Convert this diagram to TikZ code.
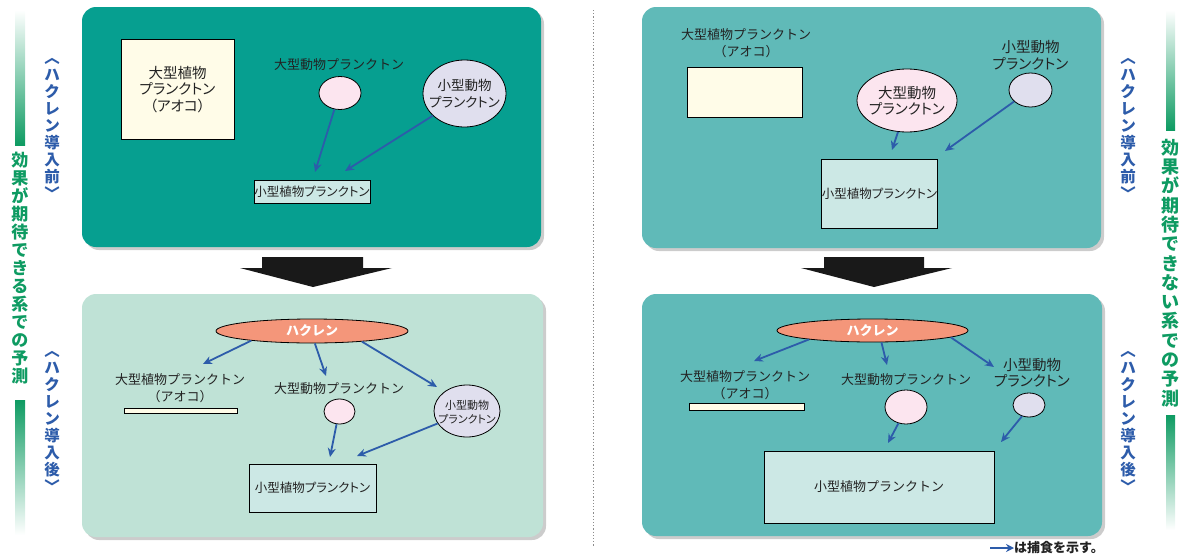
\documentclass[tikz,border=0pt]{standalone}
\usepackage{fontspec}
\setmainfont{Noto Sans CJK JP}
\newfontfamily\jpp{Noto Sans CJK JP}[RawFeature=+palt]
\usetikzlibrary{shapes.geometric,arrows.meta,shadows}
\definecolor{cTL}{HTML}{069F90}
\definecolor{cBL}{HTML}{BFE2D6}
\definecolor{cTR}{HTML}{60BAB8}
\definecolor{cIvory}{HTML}{FFFCE8}
\definecolor{cPink}{HTML}{FCE5EF}
\definecolor{cLav}{HTML}{E0DFEE}
\definecolor{cBox}{HTML}{CCE8E5}
\definecolor{cSalmon}{HTML}{F4967A}
\definecolor{cArrow}{HTML}{2D5CAA}
\definecolor{cGreen}{HTML}{0E9B62}
\definecolor{cText}{HTML}{222222}
\tikzset{
  panel/.style={rounded corners=14, inner sep=0, draw=none,
    drop shadow={shadow xshift=3pt, shadow yshift=-3pt, fill=black!20, opacity=1}},
  box/.style={draw=black, line width=0.8pt, inner sep=0, align=center, text=cText},
  ell/.style={ellipse, draw=black, line width=0.8pt, inner sep=0},
  txA/.style={font=\fontsize{13}{17}\selectfont, text=cText, inner sep=0, align=center},
  txP/.style={font=\jpp\fontsize{14.5}{16.5}\selectfont, text=cText, inner sep=0, align=center},
  txS/.style={font=\jpp\fontsize{12.5}{15}\selectfont},
  txL/.style={font=\jpp\fontsize{11}{13.5}\selectfont, text=cText, inner sep=0, align=center},
  hak/.style={ell, fill=cSalmon, text=white, font=\bfseries\fontsize{13}{15}\selectfont},
  conn/.style={draw=cArrow, line width=1.8pt, -{Stealth[length=9pt,width=8pt]}},
  vgreen/.style={text=cGreen, inner sep=0, align=center},
  vblue/.style={text=cArrow, inner sep=0, align=center, font=\bfseries\fontsize{15.5}{17}\selectfont},
  blk/.style={fill=black!90},
}
\begin{document}
\begin{tikzpicture}[x=1pt,y=-1pt]
\useasboundingbox (0,0) rectangle (1191,557);

% ---------- side decorations ----------
\shade[top color=white, bottom color=cGreen] (15,10) rectangle (25,145);
\shade[top color=cGreen, bottom color=white] (15,400) rectangle (25,535);
\node[vgreen, font=\bfseries\fontsize{17}{18}\selectfont] (vL) at (20,268.5)
  {効\\果\\が\\期\\待\\で\\き\\る\\系\\で\\の\\予\\測};
\node[vblue] (bLU) at (52,128.5) {︿\\ハ\\ク\\レ\\ン\\導\\入\\前\\﹀};
\node[vblue] (bLD) at (52,421.5) {︿\\ハ\\ク\\レ\\ン\\導\\入\\後\\﹀};

\shade[top color=white, bottom color=cGreen] (1166,10) rectangle (1175,130);
\shade[top color=cGreen, bottom color=white] (1166,415) rectangle (1175,530);
\node[vgreen, font=\bfseries\fontsize{18}{19.3}\selectfont] (vR) at (1170.5,273)
  {効\\果\\が\\期\\待\\で\\き\\な\\い\\系\\で\\の\\予\\測};
\node[vblue] (bRU) at (1128,128.5) {︿\\ハ\\ク\\レ\\ン\\導\\入\\前\\﹀};
\node[vblue] (bRD) at (1128,422) {︿\\ハ\\ク\\レ\\ン\\導\\入\\後\\﹀};

\draw[black!45, line width=0.8pt, dash pattern=on 1.2pt off 2pt] (593,10) -- (593,547);

% ---------- panels ----------
\node[panel, fill=cTL, minimum width=459, minimum height=240] (pTL) at (311.5,127) {};
\node[panel, fill=cBL, minimum width=461, minimum height=243] (pBL) at (312.5,415.5) {};
\node[panel, fill=cTR, minimum width=459, minimum height=241] (pTR) at (871.5,127.5) {};
\node[panel, fill=cTR, minimum width=460, minimum height=242] (pBR) at (872,415) {};

% ---------- big black arrows ----------
\fill[blk] (262,257) -- (363,257) -- (363,268) -- (392,268) -- (313,287) -- (240,268) -- (262,268) -- cycle;
\fill[blk] (824,257) -- (924,257) -- (924,268) -- (952,268) -- (874,287) -- (801,268) -- (824,268) -- cycle;

% ---------- top-left ----------
\node[box, fill=cIvory, minimum width=113, minimum height=100, txP] (sqTL) at (177.5,89.5) {大型植物\\プランクトン\\（アオコ）};
\node[txA] (lbTL) at (339,65) {大型動物プランクトン};
\node[ell, fill=cPink, minimum width=42, minimum height=33] (pkTL) at (340,93) {};
\node[ell, fill=cLav, minimum width=83, minimum height=67] (lvTL) at (464.5,93.5) {};
\node[txP, font=\jpp\fontsize{13.5}{16.5}\selectfont] (lvTLt) at (464.5,93.5) {小型動物\\プランクトン};
\node[box, fill=cBox, minimum width=116, minimum height=23, txS] (sbTL) at (312,191.5) {小型植物プランクトン};
\coordinate (eTL1) at (315,172);
\coordinate (eTL2) at (345,171);
\draw[conn] (pkTL.-109) -- (eTL1);
\draw[conn] (lvTL.-145) -- (eTL2);

% ---------- bottom-left ----------
\node[hak, minimum width=192, minimum height=24] (hkBL) at (312,331) {ハクレン};
\node[txA] (lbBL1) at (180,388.5) {大型植物プランクトン\\（アオコ）};
\node[box, fill=cIvory, minimum width=113, minimum height=5] (barBL) at (180.5,411) {};
\node[txA] (lbBL2) at (339,389) {大型動物プランクトン};
\node[ell, fill=cPink, minimum width=31, minimum height=25] (pkBL) at (339.5,411.5) {};
\node[ell, fill=cLav, minimum width=66, minimum height=52] (lvBL) at (467,411) {};
\node[txL] (lvBLt) at (467,412) {小型動物\\プランクトン};
\node[box, fill=cBox, minimum width=127, minimum height=48, txS] (sbBL) at (312.5,488) {小型植物プランクトン};
\coordinate (eBL1) at (203,364);
\coordinate (eBL2) at (326,376);
\coordinate (eBL3) at (437,387);
\coordinate (eBL4) at (330,457);
\coordinate (eBL5) at (357,456);
\draw[conn] (hkBL.-171) -- (eBL1);
\draw[conn] (hkBL.-77) -- (eBL2);
\draw[conn] (hkBL.-12.6) -- (eBL3);
\draw[conn] (pkBL.-103) -- (eBL4);
\draw[conn] (lvBL.-157) -- (eBL5);

% ---------- top-right ----------
\node[txA] (lbTR1) at (746,43.5) {大型植物プランクトン\\（アオコ）};
\node[box, fill=cIvory, minimum width=115, minimum height=50] (rcTR) at (744.5,92) {};
\node[ell, fill=cPink, minimum width=100, minimum height=63] (pkTR) at (907,100.5) {};
\node[txP] (pkTRt) at (907,100.5) {大型動物\\プランクトン};
\node[txP] (lbTR2) at (1030.5,55) {小型動物\\プランクトン};
\node[ell, fill=cLav, minimum width=43, minimum height=34] (lvTR) at (1030.5,90) {};
\node[box, fill=cBox, minimum width=115, minimum height=69, txS] (sbTR) at (879.5,193.5) {小型植物プランクトン};
\coordinate (eTR1) at (892,150);
\coordinate (eTR2) at (945,151);
\draw[conn] (pkTR.-106) -- (eTR1);
\draw[conn] (lvTR.-145) -- (eTR2);

% ---------- bottom-right ----------
\node[hak, minimum width=191, minimum height=23] (hkBR) at (872.5,330.5) {ハクレン};
\node[txA] (lbBR1) at (745,385) {大型植物プランクトン\\（アオコ）};
\node[box, fill=cIvory, minimum width=115, minimum height=7] (barBR) at (746.5,406.5) {};
\node[txA] (lbBR2) at (906,380) {大型動物プランクトン};
\node[ell, fill=cPink, minimum width=42, minimum height=34] (pkBR) at (906,407) {};
\node[txP] (lbBR3) at (1032,372.5) {小型動物\\プランクトン};
\node[ell, fill=cLav, minimum width=32, minimum height=24] (lvBR) at (1029,405) {};
\node[box, fill=cBox, minimum width=230, minimum height=72, font=\fontsize{13}{15}\selectfont] (sbBR) at (879,487) {小型植物プランクトン};
\coordinate (eBR1) at (754,361);
\coordinate (eBR2) at (887,365);
\coordinate (eBR3) at (994,367);
\coordinate (eBR4) at (888,443);
\coordinate (eBR5) at (1001,442);
\draw[conn] (hkBR.-172.6) -- (eBR1);
\draw[conn] (hkBR.-53) -- (eBR2);
\draw[conn] (hkBR.-5) -- (eBR3);
\draw[conn] (pkBR.-115) -- (eBR4);
\draw[conn] (lvBR.-122) -- (eBR5);

% ---------- legend ----------
\node[anchor=west, inner sep=0, text=cText, font=\bfseries\fontsize{13}{15}\selectfont] (leg) at (1014,548) {は捕食を示す。};
\coordinate (legS) at (990,548);
\draw[conn, -{Stealth[length=8pt,width=8pt]}] (legS) -- (leg.west);
\end{tikzpicture}
\end{document}
